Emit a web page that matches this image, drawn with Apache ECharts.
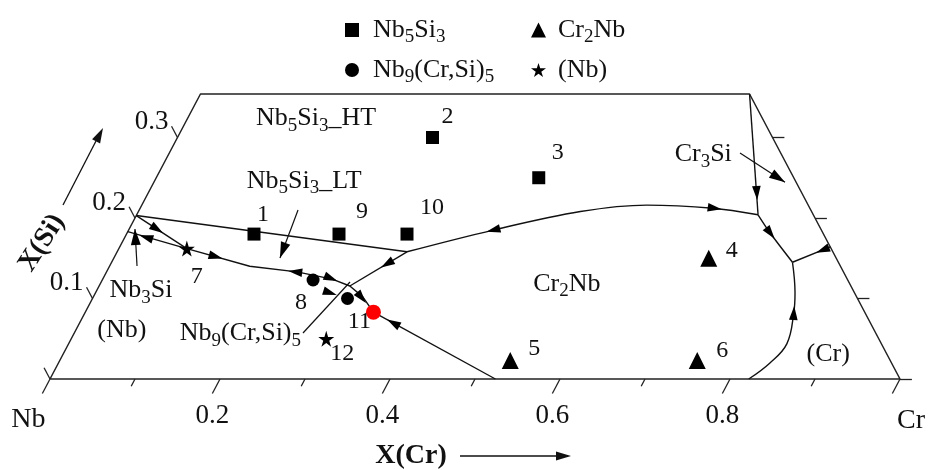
<!DOCTYPE html>
<html>
<head>
<meta charset="utf-8">
<title>Nb-Cr-Si liquidus projection</title>
<script src="https://cdn.jsdelivr.net/npm/echarts@6/dist/echarts.min.js"></script>
<style>
  html, body { margin: 0; padding: 0; background: #fff; }
  #chart { width: 933px; height: 470px; }
</style>
</head>
<body>
<div id="chart"></div>
<script>
// all compositions are [X(Cr), X(Si)]
const SI_TOP = 0.354;

const nb5si3Pts = [[0.15, 0.18], [0.25, 0.18], [0.33, 0.18], [0.30, 0.30], [0.45, 0.25]];
const nb5si3Ids = ['1', '9', '10', '2', '3'];
const cr2nbPts = [[0.70, 0.15], [0.53, 0.023], [0.75, 0.023]];
const cr2nbIds = ['4', '5', '6'];
const nb9Pts = [[0.248, 0.123], [0.30, 0.10]];
const nb9Ids = ['8', ''];
const nbssPts = [[0.08, 0.162], [0.30, 0.05]];
const nbssIds = ['7', '12'];
const eutecticPts = [[0.339, 0.083]];
const eutecticIds = ['11'];

// monovariant lines
const curveA = [[0, 0.203], [0.341, 0.158]];
const curveK = [[0, 0.203], [0.08, 0.162]];
const curveB = [[0, 0.183], [0.08, 0.162], [0.165, 0.140], [0.224, 0.133], [0.270, 0.124], [0.295, 0.1155], [0.317, 0.102], [0.339, 0.083]];
const curveJP = [[0.341, 0.158], [0.295, 0.1155]];
const curveD = [[0.341, 0.158], [0.429, 0.185], [0.52, 0.208], [0.594, 0.216], [0.674, 0.212], [0.731, 0.204]];
const curveE = [[0.646, 0.354], [0.731, 0.204]];
const curveF = [[0.731, 0.204], [0.757, 0.181], [0.801, 0.145]];
const curveG = [[0.836, 0.164], [0.801, 0.145]];
const curveH = [[0.801, 0.145], [0.823, 0.107], [0.834, 0.082], [0.845, 0.044], [0.837, 0.020], [0.822, 0]];
const curveI = [[0.524, 0], [0.339, 0.083]];

// arrows: [at, toward]
const arrowMarks = [
  [[0.033, 0.186], [0.08, 0.162]],
  [[0.025, 0.176], [0, 0.183]],
  [[0.119, 0.152], [0.165, 0.140]],
  [[0.222, 0.133], [0.165, 0.140]],
  [[0.268, 0.125], [0.295, 0.1155]],
  [[0.276, 0.107], [0.30, 0.10]],
  [[0.325, 0.143], [0.295, 0.1155]],
  [[0.316, 0.101], [0.339, 0.083]],
  [[0.429, 0.185], [0.341, 0.158]],
  [[0.676, 0.212], [0.731, 0.204]],
  [[0.716, 0.231], [0.731, 0.204]],
  [[0.757, 0.181], [0.801, 0.145]],
  [[0.829, 0.160], [0.801, 0.145]],
  [[0.834, 0.082], [0.823, 0.107]],
  [[0.369, 0.0696], [0.339, 0.083]]
];

// label leaders: [from, to], arrowhead at "to" when flagged
const leaders = [
  { pts: [[0.0322, 0.1404], [0.0068, 0.1863]], head: true },
  { pts: [[0.1868, 0.210], [0.1954, 0.1503]], head: true },
  { pts: [[0.6714, 0.2807], [0.7426, 0.2443]], head: true },
  { pts: [[0.2691, 0.0571], [0.2927, 0.1205]], head: false }
];

const crTicks = [0, 0.1, 0.2, 0.3, 0.4, 0.5, 0.6, 0.7, 0.8, 0.9, 1];
const crTickLabels = ['0.2', '0.4', '0.6', '0.8'];
const crTickLabelVals = [0.2, 0.4, 0.6, 0.8];
const siTicks = [0, 0.1, 0.2, 0.3];
const siTickLabels = ['0.1', '0.2', '0.3'];
const siTickLabelVals = [0.1, 0.2, 0.3];

const annotations = [
  { text: 'Nb{sub|5}Si{sub|3}_HT', at: [0.151, 0.324] },
  { text: 'Nb{sub|5}Si{sub|3}_LT', at: [0.176, 0.246] },
  { text: 'Cr{sub|2}Nb', at: [0.549, 0.118] },
  { text: 'Cr{sub|3}Si', at: [0.629, 0.279] },
  { text: '(Cr)', at: [0.900, 0.031] },
  { text: '(Nb)', at: [0.054, 0.061] },
  { text: 'Nb{sub|3}Si', at: [0.052, 0.110] },
  { text: 'Nb{sub|9}(Cr,Si){sub|5}', at: [0.1955, 0.057] }
];
const cornerLabels = [{ text: 'Nb', at: [0, -0.051] }, { text: 'Cr', at: [1.039, -0.052] }];

const numberOffsets = {
  '1': [9, -19], '9': [23, -22], '10': [25, -26], '2': [15, -21], '3': [19, -25],
  '4': [23, -8], '5': [24, -12], '6': [25, -10], '7': [10, 28], '8': [-12, 23],
  '11': [-14, 10], '12': [16, 15]
};

const SERIF = '"Liberation Serif", "DejaVu Serif", serif';
const INK = '#111';
const STAR = 'path://M50,0 L61,35 L98,35 L68,57 L79,91 L50,70 L21,91 L32,57 L2,35 L39,35 Z';
const tern = (p) => [p[0] + p[1] / 2, p[1]];

const rich = {
  sub: { fontSize: 19, fontFamily: SERIF, color: INK, verticalAlign: 'bottom', lineHeight: 14 }
};
const textStyle = (size) => ({ fontFamily: SERIF, fontSize: size, color: INK, opacity: 1, lineHeight: 34, rich });

function curve(pts, smooth) {
  return {
    type: 'line', data: pts.map(tern), smooth: smooth || false, symbol: 'none',
    clip: false, silent: true, z: 2,
    lineStyle: { color: '#111', width: 1.4 }
  };
}

function markers(name, pts, ids, symbol, size, color) {
  return {
    name, type: 'scatter', symbol, symbolSize: size, clip: false, silent: true, z: 5,
    itemStyle: { color, opacity: 1 },
    label: { show: true, position: 'inside', formatter: (p) => p.name, ...textStyle(24), textBorderWidth: 0 },
    data: pts.map((p, i) => ({
      name: ids[i],
      value: tern(p),
      label: { offset: numberOffsets[ids[i]] || [0, 0] }
    }))
  };
}

function textSeries(items, size, extra) {
  return {
    type: 'scatter', symbolSize: 0, clip: false, silent: true, z: 3,
    itemStyle: { opacity: 1 },
    label: { show: true, position: 'inside', formatter: (p) => p.name, ...textStyle(size), textBorderWidth: 0, ...(extra || {}) },
    data: items
  };
}

// tick segments
const tickSegs = [];
crTicks.forEach((c, i) => {
  const len = i % 2 === 0 ? 0.018 : 0.009;
  tickSegs.push({ coords: [tern([c, 0]), tern([c, -len])] });
});
siTicks.forEach((s) => {
  tickSegs.push({ coords: [tern([0, s]), tern([-0.014, s + 0.014])] });
  tickSegs.push({ coords: [tern([1 - s, s]), tern([1 - s + 0.014, s])] });
});

const leaderSegs = leaders.map((l) => ({ coords: l.pts.map(tern) }));

const arrowData = arrowMarks.map((a) => [...tern(a[0]), ...tern(a[1]), 0, 14]);
leaders.filter((l) => l.head).forEach((l) => {
  const from = l.pts[0], to = l.pts[1];
  const beyond = [2 * to[0] - from[0], 2 * to[1] - from[1]];
  arrowData.push([...tern(to), ...tern(beyond), 1, 16]);
});

const frame = [[0, 0], [1, 0], [1 - SI_TOP, SI_TOP], [0, SI_TOP], [0, 0]];

const legendNames = {
  'Nb5Si3': 'Nb{sub|5}Si{sub|3}',
  'Nb9(Cr,Si)5': 'Nb{sub|9}(Cr,Si){sub|5}',
  'Cr2Nb': 'Cr{sub|2}Nb',
  '(Nb)': '(Nb)'
};

const chart = echarts.init(document.getElementById('chart'), null, { renderer: 'canvas' });
chart.setOption({
  animation: false,
  backgroundColor: '#fff',
  grid: { left: 50, right: 33, top: 94, bottom: 91 },
  xAxis: { type: 'value', min: 0, max: 1, show: false },
  yAxis: { type: 'value', min: 0, max: SI_TOP, show: false },
  legend: [
    {
      data: ['Nb5Si3', 'Nb9(Cr,Si)5'], orient: 'vertical', left: 340, top: 8, itemGap: 6,
      itemWidth: 14, itemHeight: 14, selectedMode: false,
      formatter: (n) => legendNames[n],
      textStyle: { ...textStyle(26), padding: [0, 0, 0, 9] }
    },
    {
      data: ['Cr2Nb', '(Nb)'], orient: 'vertical', left: 526, top: 8, itemGap: 6,
      itemWidth: 15, itemHeight: 15, selectedMode: false,
      formatter: (n) => legendNames[n],
      textStyle: { ...textStyle(26), padding: [0, 0, 0, 7] }
    }
  ],
  graphic: [
    { type: 'text', x: 411, y: 456, style: { text: 'X(Cr)', fontFamily: SERIF, fontSize: 28, fontWeight: 'bold', fill: INK, align: 'center', verticalAlign: 'middle' } },
    { type: 'line', shape: { x1: 460, y1: 456, x2: 558, y2: 456 }, style: { stroke: '#111', lineWidth: 1.3 } },
    { type: 'polygon', shape: { points: [[571, 456], [556, 451.5], [556, 460.5]] }, style: { fill: '#111' } },
    { type: 'text', x: 42, y: 243, rotation: 1.0, style: { text: 'X(Si)', fontFamily: SERIF, fontSize: 28, fontWeight: 'bold', fill: INK, align: 'center', verticalAlign: 'middle' } },
    { type: 'line', shape: { x1: 63, y1: 205, x2: 96, y2: 141 }, style: { stroke: '#111', lineWidth: 1.3 } },
    { type: 'polygon', shape: { points: [[103, 128], [100.1, 143.4], [92.1, 139.2]] }, style: { fill: '#111' } }
  ],
  series: [
    { type: 'line', data: frame.map(tern), symbol: 'none', clip: false, silent: true, z: 1, lineStyle: { color: '#222', width: 1.5 } },
    { type: 'lines', coordinateSystem: 'cartesian2d', clip: false, silent: true, z: 1, lineStyle: { color: '#222', width: 1.3, opacity: 1 }, data: tickSegs },
    { type: 'lines', coordinateSystem: 'cartesian2d', clip: false, silent: true, z: 2, lineStyle: { color: '#111', width: 1.2, opacity: 1 }, data: leaderSegs },
    curve(curveA), curve(curveK), curve(curveB), curve(curveJP),
    curve(curveD, 0.35), curve(curveE), curve(curveF, 0.3), curve(curveG), curve(curveH, 0.4), curve(curveI),
    {
      type: 'custom', coordinateSystem: 'cartesian2d', clip: false, silent: true, z: 4,
      data: arrowData,
      renderItem: (params, api) => {
        const p = api.coord([api.value(0), api.value(1)]);
        const q = api.coord([api.value(2), api.value(3)]);
        const ang = Math.atan2(q[1] - p[1], q[0] - p[0]);
        const len = api.value(5), wid = len * 0.62;
        const ux = Math.cos(ang), uy = Math.sin(ang);
        const tip = api.value(4) ? p : [p[0] + ux * len / 2, p[1] + uy * len / 2];
        const bx = tip[0] - ux * len, by = tip[1] - uy * len;
        return {
          type: 'polygon',
          shape: { points: [tip, [bx - uy * wid / 2, by + ux * wid / 2], [bx + uy * wid / 2, by - ux * wid / 2]] },
          style: { fill: '#000' }
        };
      }
    },
    markers('Nb5Si3', nb5si3Pts, nb5si3Ids, 'rect', 13, '#000'),
    markers('Cr2Nb', cr2nbPts, cr2nbIds, 'triangle', 17, '#000'),
    markers('Nb9(Cr,Si)5', nb9Pts, nb9Ids, 'circle', 13, '#000'),
    markers('(Nb)', nbssPts, nbssIds, STAR, 16, '#000'),
    markers('eutectic', eutecticPts, eutecticIds, 'circle', 15, '#ff0000'),
    textSeries(annotations.map((a) => ({ name: a.text, value: tern(a.at) })), 26),
    textSeries(cornerLabels.map((a) => ({ name: a.text, value: tern(a.at) })), 28),
    textSeries(crTickLabelVals.map((c, i) => ({ name: crTickLabels[i], value: tern([c, -0.018]), label: { offset: [0, 22] } })), 27),
    textSeries(siTickLabelVals.map((s, i) => ({ name: siTickLabels[i], value: tern([-0.014, s + 0.014]) })), 27, { position: 'left', distance: 3, offset: [0, -4] })
  ]
});
</script>
</body>
</html>
